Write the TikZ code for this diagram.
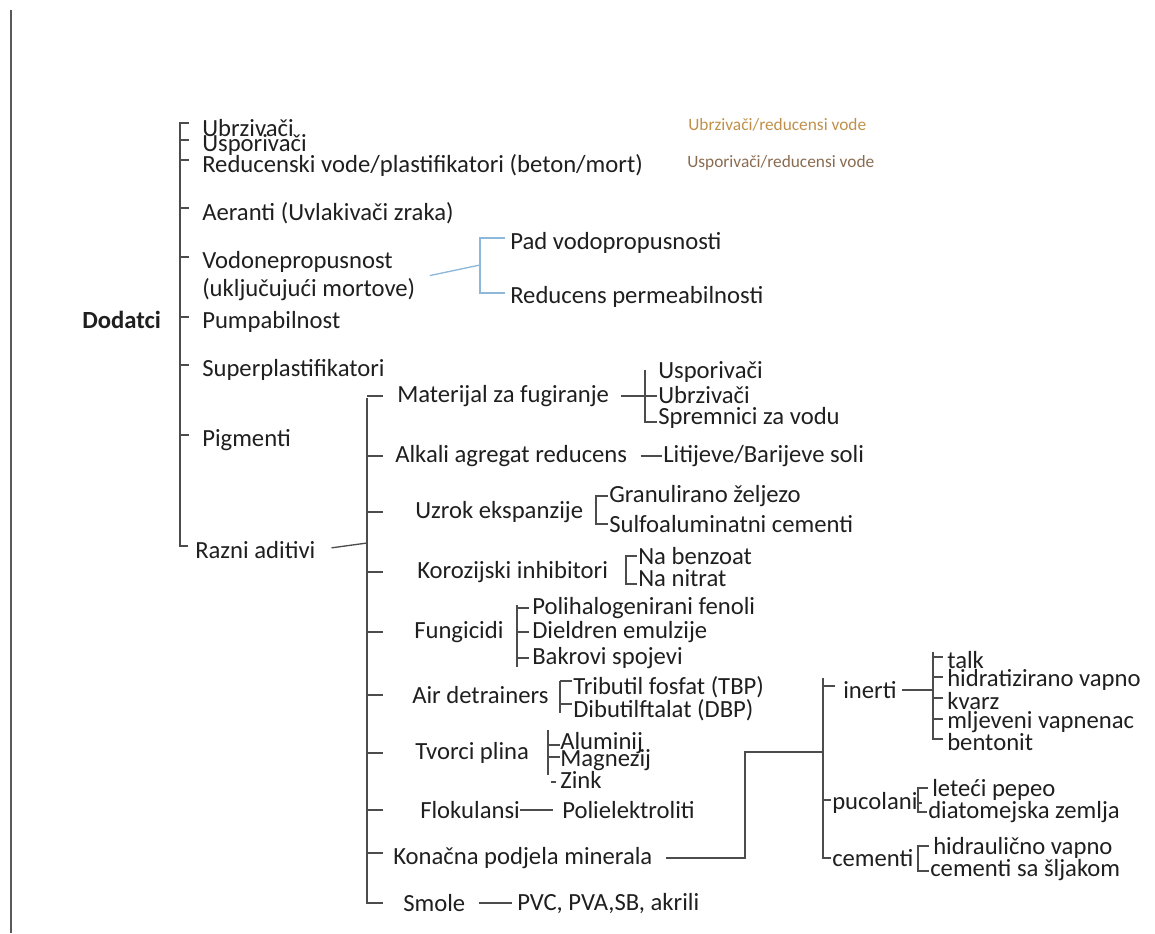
\documentclass[tikz,border=0pt]{standalone}
\usepackage{fontspec}
\setmainfont{Carlito}
\usetikzlibrary{calc}
\definecolor{tanbrown}{HTML}{C0904A}
\definecolor{taupe}{HTML}{8A6B50}
\definecolor{paleblue}{HTML}{8DB8DA}
\begin{document}
\begin{tikzpicture}[x=0.75pt,y=-0.75pt,
  lbl/.style={anchor=west,inner sep=0pt,text=black!88,font=\fontsize{18.5}{20}\selectfont},
  note/.style={anchor=west,inner sep=0pt,font=\fontsize{13}{15}\selectfont},
  brk/.style={draw=black!70,line width=1pt},
  blueline/.style={draw=paleblue,line width=1pt}]
  \useasboundingbox (0,0) rectangle (1155,933);
  % page edge
  \draw[black!65,line width=1.3pt] (11,10) -- (11,933);

  % Dodatci and first level
  \node[lbl,font=\fontsize{18.5}{20}\selectfont\bfseries] (dod) at (82,320) {Dodatci};
  \node[lbl] (ubr) at (202,128) {Ubrzivači};
  \node[lbl] (usp) at (202,145) {Usporivači};
  \node[lbl] (red) at (202,165) {Reducenski vode/plastifikatori (beton/mort)};
  \node[lbl] (aer) at (202,213) {Aeranti (Uvlakivači zraka)};
  \node[lbl] (vod) at (202,262) {Vodonepropusnost};
  \node[lbl] (vodm) at (202,290) {(uključujući mortove)};
  \node[lbl] (pum) at (202,322) {Pumpabilnost};
  \node[lbl] (sup) at (202,370) {Superplastifikatori};
  \node[lbl] (pig) at (202,440) {Pigmenti};
  \node[lbl] (raz) at (195,550) {Razni aditivi};
  \coordinate (s0) at (180,122);
  \coordinate (s1) at (180,546);
  \draw[brk,shorten >=5pt] (s0) -- (s1) -- (s1 -| raz.west);
  \foreach \n in {ubr,usp,red,aer,vod,pum,sup,pig}
    \draw[brk,shorten >=10pt] ($(s0 |- \n.west)+(0,-5)$) -- ($(\n.west)+(0,-5)$);

  % notes
  \node[note,text=tanbrown] (ubrn) at (688,125) {Ubrzivači/reducensi vode};
  \node[note,text=taupe] (uspn) at (687,163) {Usporivači/reducensi vode};

  % Vodonepropusnost
  \node[lbl] (pad) at (510,243) {Pad vodopropusnosti};
  \node[lbl] (rpe) at (510,297) {Reducens permeabilnosti};
  \coordinate (b0) at (480,238);
  \coordinate (b1) at (480,293);
  \coordinate (bj) at (480,265);
  \draw[blueline,shorten <=4pt,shorten >=4pt] (b0 -| pad.west) -- (b0) -- (b1) -- (b1 -| rpe.west);
  \draw[blueline,shorten <=11pt] (vodm.north east) -- (bj);

  % Razni aditivi
  \node[lbl] (mat) at (397,396) {Materijal za fugiranje};
  \node[lbl] (alk) at (395,456) {Alkali agregat reducens};
  \node[lbl] (uzr) at (415,512) {Uzrok ekspanzije};
  \node[lbl] (kor) at (417,572) {Korozijski inhibitori};
  \node[lbl] (fun) at (414,632) {Fungicidi};
  \node[lbl] (air) at (412,695) {Air detrainers};
  \node[lbl] (tvo) at (415,753) {Tvorci plina};
  \node[lbl] (flo) at (420,810) {Flokulansi};
  \node[lbl] (kon) at (393,858) {Konačna podjela minerala};
  \node[lbl] (smo) at (403,903) {Smole};
  \coordinate (t0) at (367,398);
  \coordinate (t1) at (367,903);
  \coordinate (t2) at (367,543);
  \draw[brk,shorten >=15pt] (t0) -- (t1) -- (smo.west);
  \foreach \n in {mat,alk,uzr,kor,fun,air,tvo,flo}
    \draw[brk] (t0 |- \n.west) -- ++(16,0);
  \draw[brk] ($(t0 |- kon.west)+(0,-5)$) -- ++(16,0);
  \draw[brk,shorten <=12pt] (raz.east) -- (t2);

  % Materijal za fugiranje
  \node[lbl] (usp2) at (658,372) {Usporivači};
  \node[lbl] (ubr2) at (658,395) {Ubrzivači};
  \node[lbl] (spr) at (658,418) {Spremnici za vodu};
  \coordinate (m0) at (645,370);
  \draw[brk,shorten >=1pt] (m0) -- ($(m0 |- spr.west)+(0,4)$) -- ($(spr.west)+(0,4)$);
  \draw[brk,shorten <=9pt,shorten >=1pt] (mat.east) -- (mat.east -| ubr2.west);

  % Alkali
  \node[lbl] (lit) at (663,456) {Litijeve/Barijeve soli};
  \draw[brk,shorten <=10pt,shorten >=1pt] (alk.east) -- (lit.west);

  % Uzrok ekspanzije
  \node[lbl] (gra) at (609,496) {Granulirano željezo};
  \node[lbl] (sul) at (609,524) {Sulfoaluminatni cementi};
  \draw[brk,shorten <=1pt,shorten >=1pt] (gra.west) -| ($(sul.west)+(-13,0)$) -- (sul.west);

  % Korozijski inhibitori
  \node[lbl] (nab) at (638,556) {Na benzoat};
  \node[lbl] (nan) at (638,578) {Na nitrat};
  \draw[brk,shorten <=1pt,shorten >=1pt] (nab.west) -| ($(nan.west)+(-12,6)$) -- ($(nan.west)+(0,6)$);

  % Fungicidi
  \node[lbl] (pol) at (532,608) {Polihalogenirani fenoli};
  \node[lbl] (die) at (532,632) {Dieldren emulzije};
  \node[lbl] (bak) at (532,658) {Bakrovi spojevi};
  \coordinate (f0) at (517,605);
  \coordinate (f1) at (517,667);
  \draw[brk] (f0) -- (f1);
  \foreach \n in {pol,die,bak}
    \draw[brk,shorten >=2pt] (f0 |- \n.west) -- (\n.west);

  % Air detrainers
  \node[lbl] (tri) at (573,687) {Tributil fosfat (TBP)};
  \node[lbl] (dib) at (573,710) {Dibutilftalat (DBP)};
  \coordinate (a0) at (560,681);
  \coordinate (a1) at (560,713);
  \draw[brk] (a0) -- (a1);
  \foreach \n in {tri,dib}
    \draw[brk,shorten >=1pt] ($(a0 |- \n.west)+(0,-6)$) -- ($(\n.west)+(0,-6)$);

  % Tvorci plina
  \node[lbl] (alu) at (560,743) {Aluminij};
  \node[lbl] (mag) at (560,760) {Magnezij};
  \node[lbl] (zin) at (560,780) {Zink};
  \coordinate (v0) at (548,730);
  \coordinate (v1) at (548,775);
  \draw[brk] (v0) -- (v1);
  \draw[brk] ($(v0 |- alu.west)+(0,2)$) -- ($(alu.west)+(0,2)$);
  \draw[brk] ($(v0 |- mag.west)+(0,-3)$) -- ($(mag.west)+(0,-3)$);
  \draw[brk,shorten <=2pt,shorten >=3pt] ($(v0 |- zin.west)+(0,2)$) -- ($(zin.west)+(0,2)$);

  % Flokulansi
  \node[lbl] (pel) at (562,810) {Polielektroliti};
  \draw[brk,shorten >=7pt] (flo.east) -- (pel.west);

  % Konacna podjela minerala
  \node[lbl] (ine) at (843,690) {inerti};
  \node[lbl] (puc) at (832,803) {pucolani};
  \node[lbl] (cem) at (832,858) {cementi};
  \coordinate (kj) at (745,752);
  \coordinate (n0) at (823,678);
  \coordinate (n1) at (823,752);
  \draw[brk,shorten <=10pt] (kon.east) -| (kj) -- (n1);
  \draw[brk,shorten >=1pt] (n0) -- (n0 |- cem.west) -- (cem.west);
  \draw[brk] ($(n0 |- ine.west)+(0,-4)$) -- ++(12,0);
  \draw[brk,shorten >=1pt] ($(n0 |- puc.west)+(0,-3)$) -- ($(puc.west)+(0,-3)$);

  % inerti
  \node[lbl] (tal) at (947,660) {talk};
  \node[lbl] (hid) at (947,680) {hidratizirano vapno};
  \node[lbl] (kva) at (947,701) {kvarz};
  \node[lbl] (mlj) at (947,722) {mljeveni vapnenac};
  \node[lbl] (ben) at (947,742) {bentonit};
  \coordinate (i0) at (933,652);
  \coordinate (i1) at (933,740);
  \draw[brk] (i0) -- (i1);
  \foreach \n in {tal,hid,kva,mlj,ben}
    \draw[brk,shorten >=3pt] ($(i0 |- \n.west)+(0,-3)$) -- ($(\n.west)+(0,-3)$);
  \draw[brk,shorten <=4pt] (ine.east) -- (ine.east -| i0);

  % pucolani
  \node[lbl] (lpep) at (932,790) {leteći pepeo};
  \node[lbl] (dia) at (928,812) {diatomejska zemlja};
  \coordinate (p0) at (918,788);
  \coordinate (p1) at (918,812);
  \draw[brk,shorten <=3pt,shorten >=1pt] (p0 -| lpep.west) -- (p0) -- (p1) -- (dia.west);
  \draw[brk,shorten <=3pt] (puc.east) -- (puc.east -| p0);

  % cementi
  \node[lbl] (hvp) at (933,848) {hidraulično vapno};
  \node[lbl] (css) at (930,870) {cementi sa šljakom};
  \coordinate (c0) at (918,846);
  \coordinate (c1) at (918,871);
  \draw[brk,shorten <=3pt,shorten >=1pt] (c0 -| hvp.west) -- (c0) -- (c1) -- (c1 -| css.west);
  \draw[brk,shorten <=3pt] (cem.east) -- (cem.east -| c0);

  % Smole
  \node[lbl] (pvc) at (517,903) {PVC, PVA,SB, akrili};
  \draw[brk,shorten <=10pt,shorten >=4pt] (smo.east) -- (pvc.west);
\end{tikzpicture}
\end{document}
